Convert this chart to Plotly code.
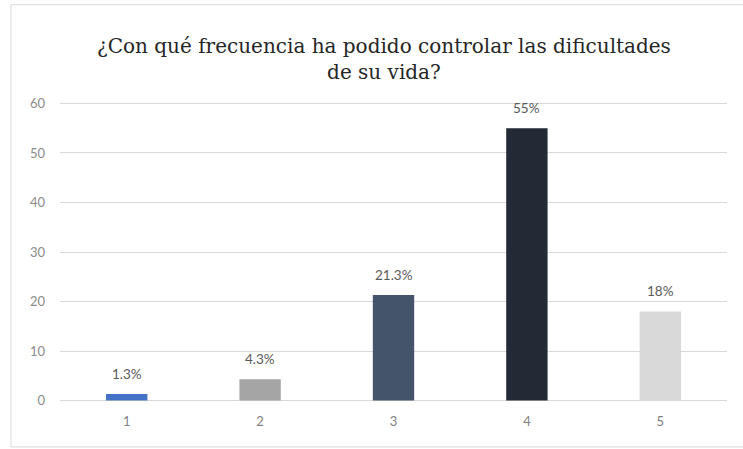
import plotly.graph_objects as go

# Survey answers (scale 1-5) and the share of respondents for each, in percent
categories = ["1", "2", "3", "4", "5"]
values = [1.3, 4.3, 21.3, 55, 18]
labels = ["1.3%", "4.3%", "21.3%", "55%", "18%"]
bar_colors = ["#4472C4", "#A5A5A5", "#44546A", "#222A35", "#D9D9D9"]
y_ticks = [0, 10, 20, 30, 40, 50, 60]

W, H = 743, 449
L, R, T, B = 60, 16, 101.5, 47
plot_h = H - T - B

fig = go.Figure(
    go.Bar(
        x=categories,
        y=values,
        marker=dict(color=bar_colors, line=dict(width=0)),
        width=0.31,
        hoverinfo="skip",
    )
)

# value labels floating above each bar (category axis positions are indices)
for i, (val, lab) in enumerate(zip(values, labels)):
    fig.add_annotation(
        x=i, y=val, text=lab, showarrow=False,
        yanchor="bottom", yshift=10,
        font=dict(family="Lato, Open Sans, sans-serif", size=13.5, color="#595959"),
    )

def py(px):
    """Convert a pixel row into paper coordinates of the plot area."""
    return (H - B - px) / plot_h

def px_x(px):
    return (px - L) / (W - L - R)

# light frame around the chart
fig.add_shape(
    type="rect", xref="paper", yref="paper",
    x0=px_x(11), x1=px_x(750), y0=py(447), y1=py(4),
    line=dict(color="#D9D9D9", width=1), fillcolor="rgba(0,0,0,0)", layer="below",
)

# two-line serif heading
fig.add_annotation(
    text="¿Con qué frecuencia ha podido controlar las dificultades<br>de su vida?",
    xref="paper", yref="paper",
    x=px_x(384), y=py(58.5),
    xanchor="center", yanchor="middle", showarrow=False,
    font=dict(family="DejaVu Serif", size=20, color="#262626"),
)

fig.update_layout(
    width=W,
    height=H,
    margin=dict(l=L, r=R, t=T, b=B, pad=0),
    paper_bgcolor="white",
    plot_bgcolor="white",
    showlegend=False,
    xaxis=dict(
        type="category",
        range=[-0.5, 4.5],
        showgrid=False,
        zeroline=False,
        showline=False,
        ticks="",
        tickfont=dict(family="Lato, Open Sans, sans-serif", size=13, color="#7F7F7F"),
        ticklabelstandoff=10,
    ),
    yaxis=dict(
        range=[-0.3, 60.3],
        tickvals=y_ticks,
        showgrid=True,
        gridcolor="#D9D9D9",
        gridwidth=1,
        zeroline=False,
        showline=False,
        ticks="",
        tickfont=dict(family="Lato, Open Sans, sans-serif", size=13, color="#8C8C8C"),
        ticklabelstandoff=14,
    ),
)

fig.write_html("out.html")
